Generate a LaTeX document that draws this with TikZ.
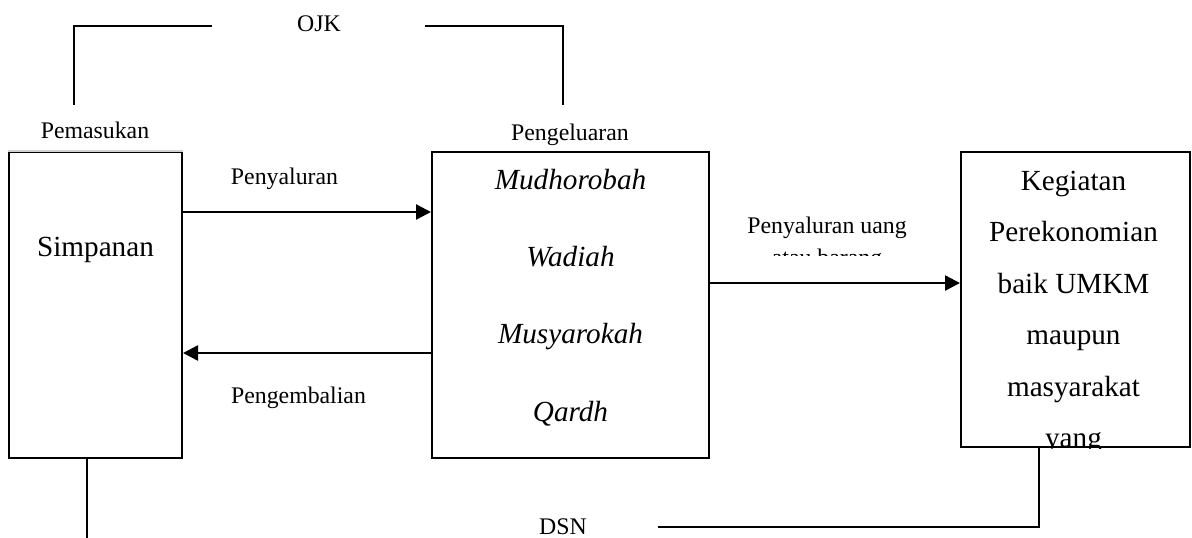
\documentclass[tikz,border=0pt]{standalone}
\usepackage{fontspec}
\setmainfont{Liberation Serif}
\usetikzlibrary{arrows.meta, positioning, calc}

\begin{document}
\begin{tikzpicture}[x=0.5pt, y=-0.5pt,
    box/.style={draw, line width=1pt, inner sep=0pt},
    lbl/.style={font=\fontsize{11.9}{14}\selectfont, anchor=base, inner sep=0pt},
    big/.style={font=\fontsize{14.6}{17}\selectfont, anchor=base, inner sep=0pt},
    akadtxt/.style={big, font=\fontsize{14.6}{17}\selectfont\itshape},
    link/.style={line width=0.8pt},
    flow/.style={line width=1.2pt, -{Triangle[length=7.5pt, width=7.5pt]}}]

\useasboundingbox (0,0) rectangle (1192,537);

% kotak utama
\node[box, minimum width=86.5pt, minimum height=153pt] (simp) at (95.5,305) {};
\draw[gray!35, line width=1pt] (simp.north west) -- (simp.north east);
\node[box, minimum width=138.5pt, minimum height=153pt] (akad) at (570.5,305) {};
\node[box, minimum width=114.5pt, minimum height=147.5pt] (keg) at (1075.5,299.5) {};

\node[big] (simpT) at (95.5,256) {Simpanan};

\foreach \name/\y in {Mudhorobah/189, Wadiah/266, Musyarokah/343, Qardh/421}
    \node[akadtxt] (\name) at (570.5,\y) {\name};

\begin{scope}
    \clip (keg.north west) rectangle (keg.south east);
    \foreach \i/\txt/\y in {1/Kegiatan/190, 2/Perekonomian/241.5, 3/baik UMKM/293,
                            4/maupun/344.5, 5/masyarakat/396, 6/yang/447.5}
        \node[big] (keg\i) at (1073.5,\y) {\txt};
\end{scope}

% label
\node[lbl] (ojk) at (319,31) {OJK};
\node[lbl] (masuk) at (95,138) {Pemasukan};
\node[lbl] (keluar) at (570,140) {Pengeluaran};
\node[lbl] (salur) at (284.5,184) {Penyaluran};
\node[lbl] (kembali) at (298.5,403) {Pengembalian};
\node[lbl] (salurUang) at (827,233) {Penyaluran uang};
\begin{scope}
    \clip (700,240) rectangle (960,255.5);
    \node[lbl] (salurUang2) at (827,265.5) {atau barang};
\end{scope}
\node[lbl] (dsn) at (563,534) {DSN};

% garis OJK
\coordinate (ojkL) at (212,26);
\coordinate (ojkR) at (425,26);
\coordinate (masukT) at (74,105);
\coordinate (keluarT) at (563,105);
\draw[link] (ojkL) -| (masukT);
\draw[link] (ojkR) -| (keluarT);

% aliran dana
\draw[flow] ($(simp.north east)+(0,61)$) -- ($(akad.north west)+(0,61)$);
\draw[flow] ($(akad.north west)+(0,202)$) -- ($(simp.north east)+(0,202)$);
\draw[flow] ($(akad.north east)+(0,132)$) -- ($(keg.north west)+(0,132)$);

% garis DSN
\coordinate (dsnL) at (658,527);
\draw[link] ($(simp.south west)+(79,0)$) -- ++(0,79);
\draw[link] (dsnL) -| ($(keg.south west)+(79,0)$);

\end{tikzpicture}
\end{document}
